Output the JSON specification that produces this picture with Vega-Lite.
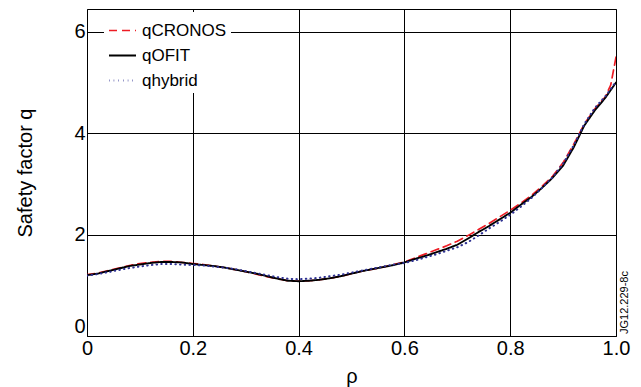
{
  "$schema": "https://vega.github.io/schema/vega-lite/v6.json",
  "autosize": "none",
  "width": 529,
  "height": 327,
  "padding": {"left": 87, "top": 9, "right": 25, "bottom": 51},
  "background": "white",
  "config": {
    "font": "Liberation Sans",
    "view": {"stroke": "#000", "strokeWidth": 1},
    "axis": {
      "labelFont": "Liberation Sans",
      "titleFont": "Liberation Sans",
      "labelFontSize": 20,
      "titleFontSize": 20,
      "titleFontWeight": "normal",
      "labelColor": "#000",
      "titleColor": "#000",
      "gridColor": "#000",
      "gridOpacity": 1,
      "gridWidth": 1,
      "domain": false,
      "ticks": false
    }
  },
  "layer": [
    {
      "data": {
        "values": [
          {"rho": 0.00, "qCRONOS": 1.21, "qOFIT": 1.20, "qhybrid": 1.19},
          {"rho": 0.02, "qCRONOS": 1.24, "qOFIT": 1.23, "qhybrid": 1.22},
          {"rho": 0.04, "qCRONOS": 1.29, "qOFIT": 1.28, "qhybrid": 1.26},
          {"rho": 0.06, "qCRONOS": 1.34, "qOFIT": 1.33, "qhybrid": 1.30},
          {"rho": 0.08, "qCRONOS": 1.39, "qOFIT": 1.38, "qhybrid": 1.34},
          {"rho": 0.10, "qCRONOS": 1.43, "qOFIT": 1.41, "qhybrid": 1.37},
          {"rho": 0.12, "qCRONOS": 1.45, "qOFIT": 1.44, "qhybrid": 1.40},
          {"rho": 0.14, "qCRONOS": 1.47, "qOFIT": 1.46, "qhybrid": 1.42},
          {"rho": 0.16, "qCRONOS": 1.47, "qOFIT": 1.46, "qhybrid": 1.42},
          {"rho": 0.18, "qCRONOS": 1.45, "qOFIT": 1.45, "qhybrid": 1.41},
          {"rho": 0.20, "qCRONOS": 1.43, "qOFIT": 1.42, "qhybrid": 1.40},
          {"rho": 0.22, "qCRONOS": 1.41, "qOFIT": 1.40, "qhybrid": 1.39},
          {"rho": 0.24, "qCRONOS": 1.38, "qOFIT": 1.38, "qhybrid": 1.37},
          {"rho": 0.26, "qCRONOS": 1.35, "qOFIT": 1.35, "qhybrid": 1.35},
          {"rho": 0.28, "qCRONOS": 1.31, "qOFIT": 1.31, "qhybrid": 1.32},
          {"rho": 0.30, "qCRONOS": 1.27, "qOFIT": 1.27, "qhybrid": 1.28},
          {"rho": 0.32, "qCRONOS": 1.22, "qOFIT": 1.23, "qhybrid": 1.24},
          {"rho": 0.34, "qCRONOS": 1.17, "qOFIT": 1.18, "qhybrid": 1.20},
          {"rho": 0.36, "qCRONOS": 1.13, "qOFIT": 1.13, "qhybrid": 1.16},
          {"rho": 0.38, "qCRONOS": 1.09, "qOFIT": 1.09, "qhybrid": 1.13},
          {"rho": 0.40, "qCRONOS": 1.08, "qOFIT": 1.08, "qhybrid": 1.12},
          {"rho": 0.42, "qCRONOS": 1.09, "qOFIT": 1.09, "qhybrid": 1.13},
          {"rho": 0.44, "qCRONOS": 1.11, "qOFIT": 1.11, "qhybrid": 1.15},
          {"rho": 0.46, "qCRONOS": 1.14, "qOFIT": 1.14, "qhybrid": 1.18},
          {"rho": 0.48, "qCRONOS": 1.18, "qOFIT": 1.18, "qhybrid": 1.21},
          {"rho": 0.50, "qCRONOS": 1.23, "qOFIT": 1.23, "qhybrid": 1.25},
          {"rho": 0.52, "qCRONOS": 1.28, "qOFIT": 1.28, "qhybrid": 1.29},
          {"rho": 0.54, "qCRONOS": 1.32, "qOFIT": 1.32, "qhybrid": 1.33},
          {"rho": 0.56, "qCRONOS": 1.36, "qOFIT": 1.36, "qhybrid": 1.37},
          {"rho": 0.58, "qCRONOS": 1.41, "qOFIT": 1.40, "qhybrid": 1.41},
          {"rho": 0.60, "qCRONOS": 1.46, "qOFIT": 1.45, "qhybrid": 1.44},
          {"rho": 0.62, "qCRONOS": 1.54, "qOFIT": 1.52, "qhybrid": 1.49},
          {"rho": 0.64, "qCRONOS": 1.62, "qOFIT": 1.58, "qhybrid": 1.55},
          {"rho": 0.66, "qCRONOS": 1.70, "qOFIT": 1.65, "qhybrid": 1.61},
          {"rho": 0.68, "qCRONOS": 1.78, "qOFIT": 1.72, "qhybrid": 1.68},
          {"rho": 0.70, "qCRONOS": 1.87, "qOFIT": 1.80, "qhybrid": 1.75},
          {"rho": 0.72, "qCRONOS": 1.98, "qOFIT": 1.92, "qhybrid": 1.85},
          {"rho": 0.74, "qCRONOS": 2.10, "qOFIT": 2.05, "qhybrid": 1.98},
          {"rho": 0.76, "qCRONOS": 2.22, "qOFIT": 2.17, "qhybrid": 2.12},
          {"rho": 0.78, "qCRONOS": 2.35, "qOFIT": 2.30, "qhybrid": 2.25},
          {"rho": 0.80, "qCRONOS": 2.48, "qOFIT": 2.43, "qhybrid": 2.39},
          {"rho": 0.82, "qCRONOS": 2.62, "qOFIT": 2.59, "qhybrid": 2.55},
          {"rho": 0.84, "qCRONOS": 2.77, "qOFIT": 2.74, "qhybrid": 2.72},
          {"rho": 0.86, "qCRONOS": 2.95, "qOFIT": 2.92, "qhybrid": 2.92},
          {"rho": 0.88, "qCRONOS": 3.15, "qOFIT": 3.12, "qhybrid": 3.13},
          {"rho": 0.90, "qCRONOS": 3.42, "qOFIT": 3.36, "qhybrid": 3.40},
          {"rho": 0.92, "qCRONOS": 3.78, "qOFIT": 3.72, "qhybrid": 3.76},
          {"rho": 0.94, "qCRONOS": 4.18, "qOFIT": 4.15, "qhybrid": 4.18},
          {"rho": 0.96, "qCRONOS": 4.48, "qOFIT": 4.45, "qhybrid": 4.50},
          {"rho": 0.98, "qCRONOS": 4.72, "qOFIT": 4.70, "qhybrid": 4.73},
          {"rho": 0.99, "qCRONOS": 4.95, "qOFIT": 4.85, "qhybrid": 4.87},
          {"rho": 1.00, "qCRONOS": 5.50, "qOFIT": 5.00, "qhybrid": 5.02}
        ]
      },
      "transform": [
        {"fold": ["qCRONOS", "qOFIT", "qhybrid"], "as": ["series", "q"]}
      ],
      "mark": {"type": "line", "strokeCap": "round", "clip": true},
      "encoding": {
        "x": {
          "field": "rho", "type": "quantitative",
          "scale": {"domain": [0, 1], "nice": false, "zero": false},
          "axis": {
            "title": "ρ", "values": [0, 0.2, 0.4, 0.6, 0.8, 1.0],
            "labelExpr": "datum.value == 0 ? '0' : format(datum.value, '.1f')",
            "labelPadding": 2, "titlePadding": 8, "labelFlush": false
          }
        },
        "y": {
          "field": "q", "type": "quantitative",
          "scale": {"domain": [0, 6.45], "nice": false},
          "axis": {
            "title": "Safety factor q", "values": [0, 2, 4, 6],
            "labelPadding": 2, "titlePadding": 38, "labelFlush": true
          }
        },
        "color": {
          "field": "series", "type": "nominal",
          "scale": {"domain": ["qCRONOS", "qOFIT", "qhybrid"], "range": ["#ED1C24", "#000000", "#2E3192"]},
          "legend": {
            "title": null,
            "orient": "none", "legendX": 17, "legendY": 3,
            "fillColor": "white", "padding": 4,
            "symbolType": "stroke", "symbolSize": 729, "symbolStrokeWidth": 2.5,
            "labelFontSize": 17, "labelFont": "Liberation Sans", "labelColor": "#000",
            "labelOffset": 5, "rowPadding": 2
          }
        },
        "strokeDash": {
          "field": "series", "type": "nominal",
          "scale": {"domain": ["qCRONOS", "qOFIT", "qhybrid"], "range": [[8, 5], [1, 0], [0.5, 4.2]]},
          "legend": null
        },
        "strokeWidth": {
          "field": "series", "type": "ordinal",
          "scale": {"domain": ["qCRONOS", "qOFIT", "qhybrid"], "range": [1.7, 2, 3.6]},
          "legend": null
        }
      }
    },
    {
      "data": {"values": [{"label": "JG12.229-8c"}]},
      "mark": {"type": "text", "angle": 270, "align": "left", "baseline": "middle", "fontSize": 11, "font": "Liberation Sans", "dx": 2, "dy": 9, "color": "#000"},
      "encoding": {
        "x": {"datum": 1},
        "y": {"datum": 0},
        "text": {"field": "label"}
      }
    }
  ]
}
